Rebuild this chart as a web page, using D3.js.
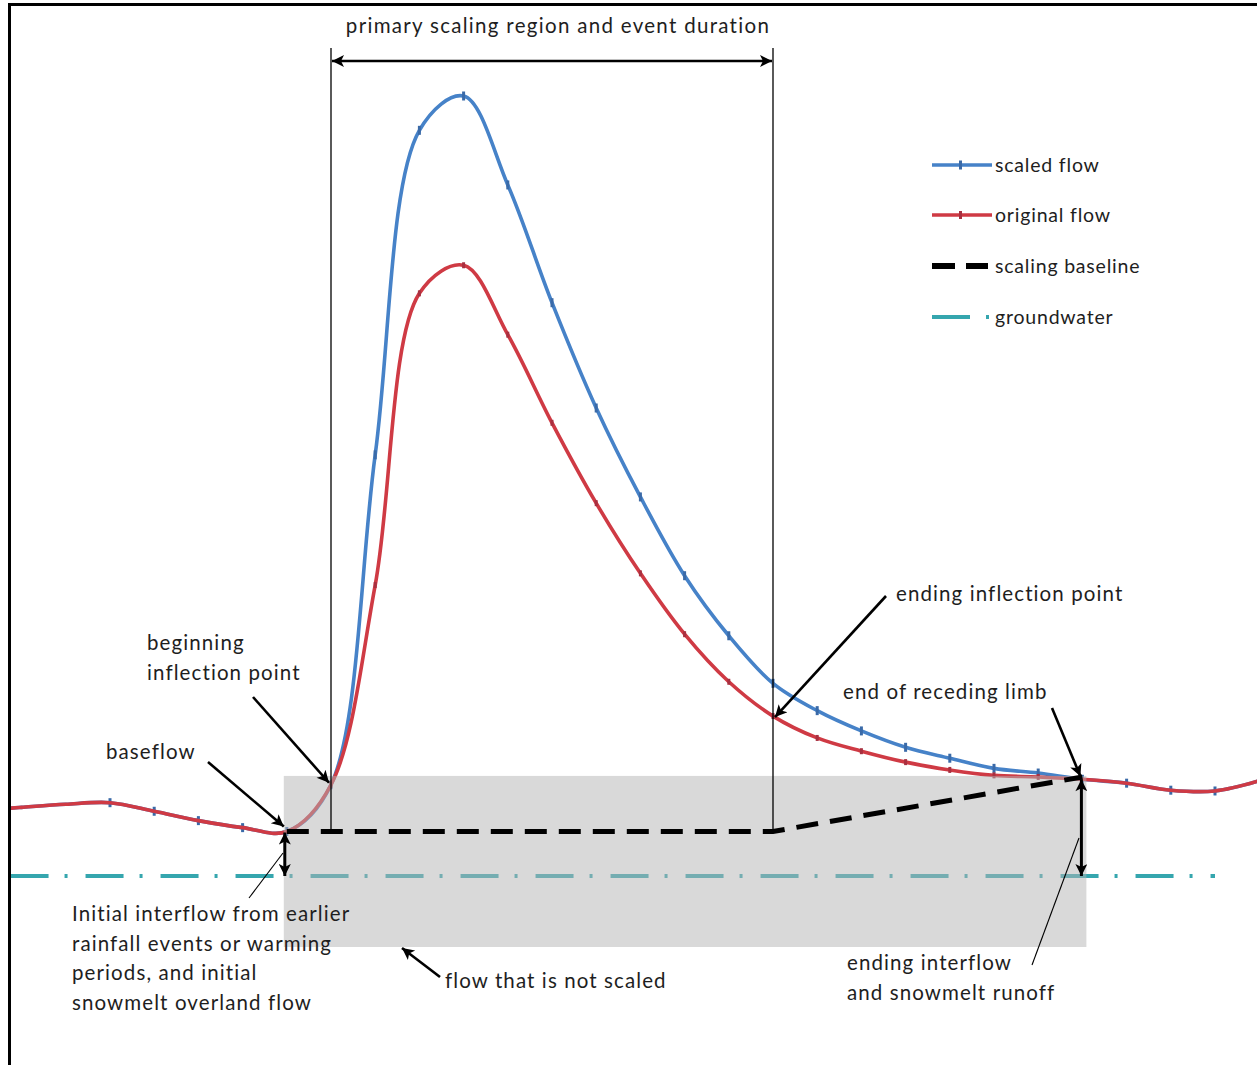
<!DOCTYPE html>
<html>
<head>
<meta charset="utf-8">
<script src="https://cdn.jsdelivr.net/npm/d3@7"></script>
<style>
  html, body { margin: 0; padding: 0; background: #fff; }
  svg { display: block; }
  text { font-family: Lato, "Open Sans", sans-serif; fill: #1e1e1e; letter-spacing: 1.1px; }
</style>
</head>
<body>
<svg id="chart" width="1257" height="1065"></svg>
<script>
// ---- data (time steps and flow values) ----
const times = [-0.25, 0, 1, 2, 3, 4, 5, 6, 7, 8, 9, 10, 11, 12, 13, 14, 15, 16, 17, 18, 19, 20, 21, 22, 23, 24, 25, 26, 27, 28];
const originalFlow = [8.7, 8.8, 9.2, 9.4, 8.3, 7.1, 6.2, 5.7, 11.7, 37.3, 74.7, 78.3, 69.4, 58.1, 47.8, 38.8, 31.0, 24.9, 20.5, 17.7, 16.0, 14.6, 13.6, 12.9, 12.7, 12.4, 11.9, 11.0, 10.9, 12.2];
const scaledFlow   = [8.7, 8.8, 9.2, 9.4, 8.3, 7.1, 6.2, 5.7, 11.7, 54.0, 95.6, 100.0, 88.6, 73.5, 60.0, 48.6, 38.5, 30.8, 24.7, 21.2, 18.6, 16.5, 15.1, 13.8, 13.2, 12.4, 11.9, 11.0, 10.9, 12.2];
const baselineTimes = [6, 17, 24];
const baselineFlow  = [5.7, 5.7, 12.7];
const groundwaterTimes = [-0.25, 27];
const groundwaterFlow  = [0, 0];
const markerFrom = 2, markerTo = 27;
const eventStart = 7, eventEnd = 17, recessionEnd = 24, baseflowT = 6;
const legendLabels = ["scaled flow", "original flow", "scaling baseline", "groundwater"];

// ---- setup ----
const svg = d3.select("#chart");
const x = d3.scaleLinear().domain([0, 27]).range([21.6, 21.6 + 44.2 * 27]);
const y = d3.scaleLinear().domain([0, 100]).range([876, 96]);

const BLUE = "#4682c8", RED = "#cf3a44", TEAL = "#35a6ae";

const defs = svg.append("defs");
defs.append("marker").attr("id", "ah").attr("viewBox", "0 0 10 10")
  .attr("refX", 10).attr("refY", 5).attr("markerWidth", 17).attr("markerHeight", 12)
  .attr("markerUnits", "userSpaceOnUse").attr("orient", "auto-start-reverse")
  .append("path").attr("d", "M0,0 L10,5 L0,10 L2.5,5 Z").attr("fill", "#000");

const clipId = "plotclip";
defs.append("clipPath").attr("id", clipId).append("rect")
  .attr("x", 11).attr("y", 6).attr("width", 1246).attr("height", 1059);

const g = svg.append("g").attr("clip-path", `url(#${clipId})`);

const line = d3.line().x(d => x(d[0])).y(d => y(d[1])).curve(d3.curveCatmullRom.alpha(0.5));

function seriesPoints(vals) { return times.map((t, i) => [t, vals[i]]); }
function markerPoints(vals) { return times.map((t, i) => [t, vals[i]]).filter(d => d[0] >= markerFrom && d[0] <= markerTo && Number.isInteger(d[0])); }

// scaled flow
g.append("path").datum(seriesPoints(scaledFlow)).attr("d", line)
  .attr("fill", "none").attr("stroke", BLUE).attr("stroke-width", 3.6);
g.selectAll(".mb").data(markerPoints(scaledFlow)).join("rect")
  .attr("x", d => x(d[0]) - 1.5).attr("y", d => y(d[1]) - 4.5).attr("width", 3).attr("height", 9)
  .attr("fill", "#3a6aa8");
// original flow
g.append("path").datum(seriesPoints(originalFlow)).attr("d", line)
  .attr("fill", "none").attr("stroke", RED).attr("stroke-width", 3.6);
g.selectAll(".mr").data(markerPoints(originalFlow).filter(d => d[0] > 6 && d[0] < 24)).join("rect")
  .attr("x", d => x(d[0]) - 1.5).attr("y", d => y(d[1]) - 3).attr("width", 3).attr("height", 6)
  .attr("fill", "#a83040");

// groundwater
g.append("path").datum(groundwaterTimes.map((t, i) => [t, groundwaterFlow[i]]))
  .attr("d", d3.line().x(d => x(d[0])).y(d => y(d[1])))
  .attr("stroke", TEAL).attr("stroke-width", 4).attr("fill", "none")
  .attr("stroke-dasharray", "38 16 3 18");

// grey "not scaled" region overlay
g.append("rect")
  .attr("x", x(baseflowT) - 3).attr("y", y(baselineFlow[2]) - 1)
  .attr("width", x(recessionEnd) + 4 - (x(baseflowT) - 3))
  .attr("height", 947 - (y(baselineFlow[2]) - 1))
  .attr("fill", "#b4b4b4").attr("opacity", 0.5);

// scaling baseline
g.append("path").datum(baselineTimes.map((t, i) => [t, baselineFlow[i]]))
  .attr("d", d3.line().x(d => x(d[0])).y(d => y(d[1])))
  .attr("stroke", "#000").attr("stroke-width", 5).attr("fill", "none")
  .attr("stroke-dasharray", "22 12");

// event-duration verticals and arrow
[eventStart, eventEnd].forEach(t => {
  svg.append("line").attr("x1", x(t)).attr("x2", x(t)).attr("y1", 48).attr("y2", y(baselineFlow[0]))
    .attr("stroke", "#000").attr("stroke-width", 1.3);
});
svg.append("line").attr("x1", x(eventStart) + 1).attr("x2", x(eventEnd) - 1).attr("y1", 61).attr("y2", 61)
  .attr("stroke", "#000").attr("stroke-width", 2.5)
  .attr("marker-start", "url(#ah)").attr("marker-end", "url(#ah)");
svg.append("text").attr("x", (x(eventStart) + x(eventEnd)) / 2 + 6).attr("y", 33)
  .attr("text-anchor", "middle").attr("font-size", 20.5).style("letter-spacing", "1.3px")
  .text("primary scaling region and event duration");

// annotation arrows
function arrow(x1, y1, x2, y2, w = 2.6) {
  svg.append("line").attr("x1", x1).attr("y1", y1).attr("x2", x2).attr("y2", y2)
    .attr("stroke", "#000").attr("stroke-width", w).attr("marker-end", "url(#ah)");
}
function dbl(xx, y1, y2) {
  svg.append("line").attr("x1", xx).attr("y1", y1).attr("x2", xx).attr("y2", y2)
    .attr("stroke", "#000").attr("stroke-width", 3)
    .attr("marker-start", "url(#ah)").attr("marker-end", "url(#ah)");
}
function thin(x1, y1, x2, y2) {
  svg.append("line").attr("x1", x1).attr("y1", y1).attr("x2", x2).attr("y2", y2)
    .attr("stroke", "#000").attr("stroke-width", 1.1);
}
arrow(253, 697, x(eventStart) - 2, y(originalFlow[8]) - 2);
arrow(208, 762, x(baseflowT) - 3, y(originalFlow[7]) - 5);
dbl(x(baseflowT) - 2, y(baselineFlow[0]) + 1, y(0));
thin(283, 853, 249, 898);
arrow(886, 596, x(eventEnd) + 2, y(originalFlow[18]) + 1);
arrow(1052, 708, x(recessionEnd) - 2, y(originalFlow[25]) - 3);
dbl(x(recessionEnd) - 1, y(originalFlow[25]), y(0));
thin(1079, 838, 1032, 965);
arrow(440, 977, 402, 948);

// annotation text
function label(xx, yy, lines, size = 20.5, lh = 29.5) {
  const t = svg.append("text").attr("x", xx).attr("y", yy).attr("font-size", size);
  lines.forEach((s, i) => t.append("tspan").attr("x", xx).attr("dy", i === 0 ? 0 : lh).text(s));
}
label(147, 650, ["beginning", "inflection point"]);
label(106, 759, ["baseflow"]);
label(72, 921, ["Initial interflow from earlier", "rainfall events or warming", "periods, and initial", "snowmelt overland flow"]);
label(445, 988, ["flow that is not scaled"]);
label(896, 601, ["ending inflection point"]);
label(843, 699, ["end of receding limb"]);
label(847, 970, ["ending interflow", "and snowmelt runoff"]);

// legend
const lg = svg.append("g");
const ly = [165, 215, 266, 317];
lg.append("line").attr("x1", 932).attr("x2", 992).attr("y1", ly[0]).attr("y2", ly[0]).attr("stroke", BLUE).attr("stroke-width", 3.6);
lg.append("rect").attr("x", 959).attr("y", ly[0] - 4.5).attr("width", 3).attr("height", 9).attr("fill", "#3a6aa8");
lg.append("line").attr("x1", 932).attr("x2", 992).attr("y1", ly[1]).attr("y2", ly[1]).attr("stroke", RED).attr("stroke-width", 3.6);
lg.append("rect").attr("x", 959).attr("y", ly[1] - 4).attr("width", 3).attr("height", 8).attr("fill", "#a83040");
lg.append("line").attr("x1", 932).attr("x2", 988).attr("y1", ly[2]).attr("y2", ly[2]).attr("stroke", "#000").attr("stroke-width", 6).attr("stroke-dasharray", "23 11");
lg.append("line").attr("x1", 932).attr("x2", 992).attr("y1", ly[3]).attr("y2", ly[3]).attr("stroke", TEAL).attr("stroke-width", 4).attr("stroke-dasharray", "38 16 3 18");
legendLabels.forEach((s, i) => {
  lg.append("text").attr("x", 995).attr("y", ly[i] + 7).attr("font-size", 19.5).style("letter-spacing", "0.8px").text(s);
});

// frame
svg.append("line").attr("x1", 8).attr("x2", 1257).attr("y1", 4.5).attr("y2", 4.5).attr("stroke", "#000").attr("stroke-width", 3);
svg.append("line").attr("x1", 9.5).attr("x2", 9.5).attr("y1", 3).attr("y2", 1065).attr("stroke", "#000").attr("stroke-width", 3);
</script>
</body>
</html>
